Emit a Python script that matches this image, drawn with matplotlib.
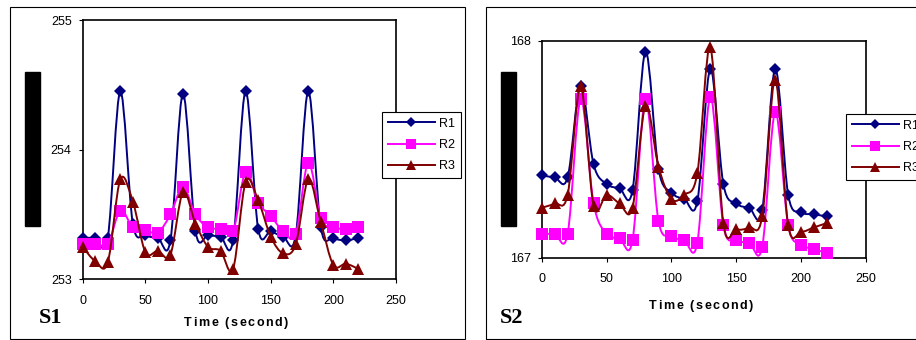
import matplotlib
matplotlib.use("Agg")
import matplotlib.pyplot as plt
from matplotlib.path import Path
from matplotlib.patches import PathPatch, Rectangle
from matplotlib.lines import Line2D

plt.rcParams['font.family'] = ['Liberation Sans', 'DejaVu Sans']

# time axis (seconds)
time = [0, 10, 20, 30, 40, 50, 60, 70, 80, 90, 100, 110, 120, 130, 140,
        150, 160, 170, 180, 190, 200, 210, 220]

# S1 readings
s1_r1 = [253.32, 253.32, 253.32, 254.45, 253.43, 253.34, 253.32, 253.30, 254.43,
         253.37, 253.34, 253.33, 253.30, 254.45, 253.39, 253.37, 253.33, 253.34,
         254.45, 253.40, 253.32, 253.30, 253.32]
s1_r2 = [253.27, 253.27, 253.27, 253.53, 253.40, 253.38, 253.36, 253.50, 253.71,
         253.50, 253.40, 253.39, 253.37, 253.83, 253.59, 253.49, 253.37, 253.35,
         253.90, 253.47, 253.40, 253.39, 253.40]
s1_r3 = [253.25, 253.14, 253.13, 253.77, 253.60, 253.21, 253.22, 253.19, 253.67,
         253.43, 253.25, 253.22, 253.08, 253.75, 253.61, 253.33, 253.20, 253.27,
         253.77, 253.44, 253.11, 253.12, 253.08]

# S2 readings
s2_r1 = [167.38, 167.37, 167.37, 167.79, 167.43, 167.34, 167.32, 167.31, 167.95,
         167.41, 167.30, 167.27, 167.26, 167.87, 167.34, 167.25, 167.23, 167.22,
         167.87, 167.29, 167.21, 167.20, 167.19]
s2_r2 = [167.11, 167.11, 167.11, 167.73, 167.25, 167.11, 167.09, 167.08, 167.73,
         167.17, 167.10, 167.08, 167.07, 167.74, 167.15, 167.08, 167.07, 167.05,
         167.67, 167.15, 167.06, 167.04, 167.02]
s2_r3 = [167.23, 167.25, 167.29, 167.79, 167.24, 167.29, 167.25, 167.23, 167.70,
         167.42, 167.27, 167.29, 167.39, 167.97, 167.16, 167.13, 167.14, 167.19,
         167.82, 167.15, 167.12, 167.14, 167.16]

labels = ["R1", "R2", "R3"]
colors = ["#000080", "#FF00FF", "#800000"]
markers = ["D", "s", "^"]
msizes = [6.6, 8.6, 8.8]


def smooth_path(x, y):
    # excel-like smoothed line: cubic bezier through every point
    n = len(x)
    verts = [(x[0], y[0])]
    codes = [Path.MOVETO]
    for i in range(n - 1):
        a = i - 1 if i > 0 else i
        d = i + 2 if i + 2 < n else i + 1
        c1 = (x[i] + (x[i + 1] - x[a]) / 6.0, y[i] + (y[i + 1] - y[a]) / 6.0)
        c2 = (x[i + 1] - (x[d] - x[i]) / 6.0, y[i + 1] - (y[d] - y[i]) / 6.0)
        verts += [c1, c2, (x[i + 1], y[i + 1])]
        codes += [Path.CURVE4] * 3
    return Path(verts, codes)


W, H = 916, 340
fig = plt.figure(figsize=(W / 100, H / 100), dpi=100)
renderer = fig.canvas.get_renderer()


def fx(px):
    return px / W


def fy(py):
    return 1 - py / H


def spaced_text(cx, cy, s, gap=1.6, **kw):
    # draw text with extra letter spacing, centred at pixel (cx, cy)
    widths = []
    for ch in s:
        t = fig.text(0, 0, ch, **kw)
        widths.append(t.get_window_extent(renderer).width)
        t.remove()
    total = sum(widths) + gap * (len(s) - 1)
    x = cx - total / 2
    for ch, w in zip(s, widths):
        fig.text(fx(x), fy(cy), ch, ha="left", va="center", **kw)
        x += w + gap


def panel(box, axbox, series, ylim, yticks, name, name_pos, xlab, leg_xy):
    x0, y0, x1, y1 = box
    fig.add_artist(Rectangle((fx(x0), fy(y1)), fx(x1 - x0), (y1 - y0) / H,
                             transform=fig.transFigure, fill=False,
                             edgecolor="black", lw=0.8))
    l, t, r, b = axbox
    ax = fig.add_axes([fx(l), fy(b), fx(r - l), (b - t) / H])
    for k, ys in enumerate(series):
        ax.add_patch(PathPatch(smooth_path(time, ys), fill=False,
                               edgecolor=colors[k], lw=1.4, zorder=2 + 2 * k))
        ax.plot(time, ys, linestyle="none", marker=markers[k], ms=msizes[k],
                color=colors[k], markeredgewidth=0, zorder=3 + 2 * k,
                clip_on=False)
    ax.set_xlim(0, 250)
    ax.set_ylim(*ylim)
    ax.set_xticks([0, 50, 100, 150, 200, 250])
    ax.set_yticks(yticks)
    ax.tick_params(direction="out", length=3, width=0.8, labelsize=9)
    ax.tick_params(axis="x", pad=8)
    ax.tick_params(axis="y", pad=5)
    for s in ax.spines.values():
        s.set_linewidth(1.2)
    spaced_text(xlab[0], xlab[1], "Time (second)", fontsize=9,
                fontweight="bold")
    fig.text(fx(name_pos[0]), fy(name_pos[1]), name, ha="left", va="center",
             fontsize=16, fontweight="bold", family="Liberation Serif")
    # redaction bar over the y axis title
    fig.add_artist(Rectangle((fx(box[0] + 15), fy(225.7)), fx(15), 153.7 / H,
                             transform=fig.transFigure, color="black"))
    handles = [Line2D([], [], color=colors[k], marker=markers[k],
                      ms=msizes[k] * 0.8, lw=1.4, markeredgewidth=0)
               for k in range(3)]
    leg = ax.legend(handles, labels, loc="upper left",
                    bbox_to_anchor=(fx(leg_xy[0]), fy(leg_xy[1])),
                    bbox_transform=fig.transFigure, borderaxespad=0,
                    fontsize=9, fancybox=False, edgecolor="black",
                    framealpha=1, handlelength=3.8, handletextpad=0.3,
                    labelspacing=0.75, borderpad=0.45)
    leg.get_frame().set_linewidth(0.8)
    return ax


panel((10, 7, 465, 339), (82.7, 20, 396, 279.3), [s1_r1, s1_r2, s1_r3],
      (253, 255), [253, 254, 255], "S1", (39, 318), (236, 323), (382, 112))
panel((486, 7, 930, 339), (541.7, 40.7, 866, 257.7), [s2_r1, s2_r2, s2_r3],
      (167, 168), [167, 168], "S2", (500, 318), (701, 306), (846, 114))

fig.savefig("out.png", dpi=100)
